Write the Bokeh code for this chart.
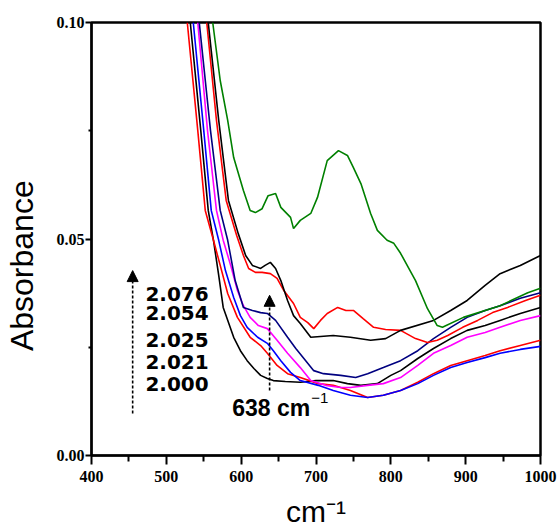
from bokeh.plotting import figure
from bokeh.models import Range1d, Arrow, NormalHead, PrintfTickFormatter, FixedTicker, ColumnDataSource
from bokeh.core.properties import value
from bokeh.embed import file_html
from bokeh.resources import INLINE

# ---------------- data (wavenumber cm-1, absorbance) ----------------
wn_black_low = [532, 546, 556, 563, 570, 576, 590, 599, 608, 617, 626, 635, 643, 659, 679, 700, 723, 742, 760, 782, 800, 813, 836, 857, 880, 902, 926, 946, 973, 1000]
ab_black_low = [0.100, 0.0751, 0.0566, 0.0497, 0.0416, 0.0342, 0.0273, 0.0242, 0.0219, 0.0201, 0.0185, 0.0178, 0.0173, 0.0171, 0.0169, 0.0173, 0.0173, 0.0166, 0.0162, 0.0166, 0.0185, 0.0196, 0.0224, 0.0247, 0.0270, 0.0289, 0.0300, 0.0312, 0.0328, 0.0342]

wn_red_low = [528, 542, 552, 563, 572, 582, 595, 612, 626, 635, 648, 662, 679, 703, 723, 746, 769, 790, 813, 836, 857, 880, 902, 926, 946, 973, 1000]
ab_red_low = [0.100, 0.0751, 0.0566, 0.0497, 0.0439, 0.0374, 0.0319, 0.0273, 0.0254, 0.0236, 0.0208, 0.0189, 0.0180, 0.0166, 0.0162, 0.0150, 0.0134, 0.0139, 0.0150, 0.0169, 0.0189, 0.0208, 0.0219, 0.0231, 0.0242, 0.0254, 0.0266]

wn_blue = [536, 550, 560, 570, 579, 590, 599, 608, 622, 635, 643, 653, 666, 679, 703, 723, 746, 769, 790, 813, 836, 857, 880, 902, 926, 946, 973, 1000]
ab_blue = [0.100, 0.0751, 0.0566, 0.0497, 0.0427, 0.0365, 0.0323, 0.0296, 0.0273, 0.0259, 0.0242, 0.0219, 0.0192, 0.0173, 0.0162, 0.0150, 0.0139, 0.0134, 0.0139, 0.0150, 0.0166, 0.0185, 0.0203, 0.0215, 0.0226, 0.0236, 0.0245, 0.0252]

wn_magenta = [542, 555, 567, 576, 586, 595, 603, 612, 623, 635, 648, 662, 679, 693, 713, 733, 746, 769, 790, 813, 836, 857, 880, 902, 926, 946, 973, 1000]
ab_magenta = [0.100, 0.0751, 0.0566, 0.0497, 0.0439, 0.0381, 0.0346, 0.0319, 0.0300, 0.0293, 0.0266, 0.0236, 0.0203, 0.0173, 0.0162, 0.0157, 0.0157, 0.0162, 0.0166, 0.0180, 0.0208, 0.0236, 0.0254, 0.0273, 0.0284, 0.0296, 0.0312, 0.0323]

wn_navy = [544, 559, 572, 582, 592, 603, 615, 626, 635, 646, 662, 673, 683, 697, 710, 733, 753, 769, 790, 813, 836, 857, 880, 902, 926, 946, 973, 1000]
ab_navy = [0.100, 0.0751, 0.0566, 0.0497, 0.0404, 0.0342, 0.0335, 0.0330, 0.0328, 0.0312, 0.0273, 0.0247, 0.0226, 0.0196, 0.0189, 0.0185, 0.0180, 0.0189, 0.0203, 0.0219, 0.0242, 0.0270, 0.0296, 0.0319, 0.0335, 0.0346, 0.0363, 0.0376]

wn_red_high = [554, 567, 580, 594, 603, 610, 619, 628, 639, 648, 657, 670, 679, 689, 697, 706, 715, 729, 740, 750, 763, 777, 793, 813, 833, 849, 862, 876, 896, 916, 936, 956, 980, 1000]
ab_red_high = [0.100, 0.0774, 0.0589, 0.0508, 0.0462, 0.0432, 0.0423, 0.0423, 0.0420, 0.0409, 0.0381, 0.0351, 0.0319, 0.0307, 0.0293, 0.0312, 0.0328, 0.0342, 0.0335, 0.0335, 0.0316, 0.0296, 0.0291, 0.0289, 0.0270, 0.0261, 0.0266, 0.0277, 0.0296, 0.0312, 0.0330, 0.0342, 0.0358, 0.0370]

wn_black_high = [556, 570, 583, 596, 606, 615, 626, 632, 639, 646, 653, 662, 670, 679, 693, 706, 723, 746, 773, 793, 813, 857, 880, 902, 926, 946, 973, 1000]
ab_black_high = [0.100, 0.0774, 0.0589, 0.0513, 0.0462, 0.0439, 0.0432, 0.0439, 0.0446, 0.0432, 0.0404, 0.0358, 0.0323, 0.0305, 0.0273, 0.0275, 0.0277, 0.0273, 0.0266, 0.0270, 0.0289, 0.0312, 0.0335, 0.0358, 0.0393, 0.0420, 0.0439, 0.0462]

wn_green = [562, 572, 582, 590, 603, 612, 619, 628, 636, 646, 653, 666, 670, 679, 693, 702, 715, 730, 742, 750, 760, 773, 782, 795, 804, 813, 833, 849, 862, 869, 897, 946, 983, 1000]
ab_green = [0.100, 0.0866, 0.0774, 0.0688, 0.0612, 0.0566, 0.0561, 0.0570, 0.0600, 0.0605, 0.0573, 0.0550, 0.0524, 0.0543, 0.0559, 0.0596, 0.0681, 0.0704, 0.0693, 0.0665, 0.0628, 0.0559, 0.0520, 0.0497, 0.0490, 0.0467, 0.0404, 0.0339, 0.0300, 0.0296, 0.0319, 0.0346, 0.0376, 0.0386]

x_ticks = [400, 500, 600, 700, 800, 900, 1000]
x_minor = [450, 550, 650, 750, 850, 950]
y_ticks = [0.0, 0.05, 0.10]
y_minor = [0.025, 0.075]

x_title = "cm\u207b\u00b9"
y_title = "Absorbance"

ratio_labels = ["2.076", "2.054", "2.025", "2.021", "2.000"]
ratio_label_x = [472, 472, 472, 472, 472]
ratio_label_y = [0.0374, 0.0328, 0.0266, 0.0215, 0.0166]

arrow_x = [455, 638]
arrow_y0 = [0.0097, 0.0150]
arrow_y1 = [0.0427, 0.0370]

band_label = "638 cm"
band_label_x = 588
band_label_y = 0.0109

# ---------------- figure ----------------
p = figure(width=560, height=530, output_backend="svg", toolbar_location=None,
           x_range=Range1d(400, 1000), y_range=Range1d(0, 0.10),
           min_border_left=91, min_border_right=20, min_border_top=22, min_border_bottom=75)
p.xgrid.visible = False
p.ygrid.visible = False
p.outline_line_color = "black"
p.outline_line_width = 2.5
p.background_fill_color = "white"
p.border_fill_color = "white"

series = [
    (wn_black_low, ab_black_low, "#000000"),
    (wn_red_low, ab_red_low, "#FF0000"),
    (wn_blue, ab_blue, "#0000FF"),
    (wn_magenta, ab_magenta, "#FF00FF"),
    (wn_navy, ab_navy, "#000080"),
    (wn_red_high, ab_red_high, "#FF0000"),
    (wn_black_high, ab_black_high, "#000000"),
    (wn_green, ab_green, "#008000"),
]
for xs, ys, c in series:
    p.line(xs, ys, line_color=c, line_width=1.6)

tick_font = "Liberation Sans Narrow"
for ax in (p.xaxis[0], p.yaxis[0]):
    ax.axis_line_width = 2
    ax.major_tick_line_width = 2
    ax.minor_tick_line_width = 2
    ax.major_tick_in = 0
    ax.minor_tick_in = 0
    ax.major_label_text_font = tick_font
    ax.major_label_text_font_style = "bold"
    ax.major_label_text_font_size = "16px"
    ax.major_label_text_color = "black"
    ax.axis_label_text_font = "Liberation Sans"
    ax.axis_label_text_font_style = "normal"
    ax.axis_label_text_color = "black"

p.xaxis.ticker = FixedTicker(ticks=x_ticks, minor_ticks=x_minor)
p.yaxis.ticker = FixedTicker(ticks=y_ticks, minor_ticks=y_minor)
p.xaxis.formatter = PrintfTickFormatter(format="%d")
p.yaxis.formatter = PrintfTickFormatter(format="%.2f")
p.xaxis.major_tick_out = 9
p.xaxis.minor_tick_out = 6
p.yaxis.major_tick_out = 6
p.yaxis.minor_tick_out = 3
p.xaxis.major_label_standoff = 6
p.yaxis.major_label_standoff = 1
p.xaxis.axis_label = x_title
# trailing no-break spaces push the rotated title slightly below the frame centre, as in the reference
p.yaxis.axis_label = y_title + "\u00a0" * 6
p.xaxis.axis_label_text_font_size = "30px"
p.yaxis.axis_label_text_font_size = "32px"
p.xaxis.axis_label_standoff = 10
p.yaxis.axis_label_standoff = 14

# arrows
for xa, y0, y1 in zip(arrow_x, arrow_y0, arrow_y1):
    p.add_layout(Arrow(end=NormalHead(size=11, fill_color="black", line_color="black", line_width=1),
                       x_start=xa, y_start=y0, x_end=xa, y_end=y1,
                       line_color="black", line_width=1.6, line_dash="3 2"))

# ratio labels
src = ColumnDataSource(dict(x=ratio_label_x, y=ratio_label_y, t=ratio_labels))
p.text(x="x", y="y", text="t", source=src, text_font=value("DejaVu Sans"),
       text_font_style="bold", text_font_size="20px", text_baseline="middle",
       text_align="left", text_color="black")

# band label
p.text(x=[band_label_x], y=[band_label_y], text=[band_label], text_font=value("Liberation Sans"),
       text_font_style="bold", text_font_size="23px", text_baseline="middle",
       text_align="left", text_color="black")
p.text(x=[band_label_x], y=[band_label_y], text=["\u22121"], text_font=value("Liberation Sans"),
       text_font_size="15px", text_baseline="middle", text_align="left", text_color="black",
       x_offset=79, y_offset=-10)

open("out.html", "w").write(file_html(p, INLINE))
